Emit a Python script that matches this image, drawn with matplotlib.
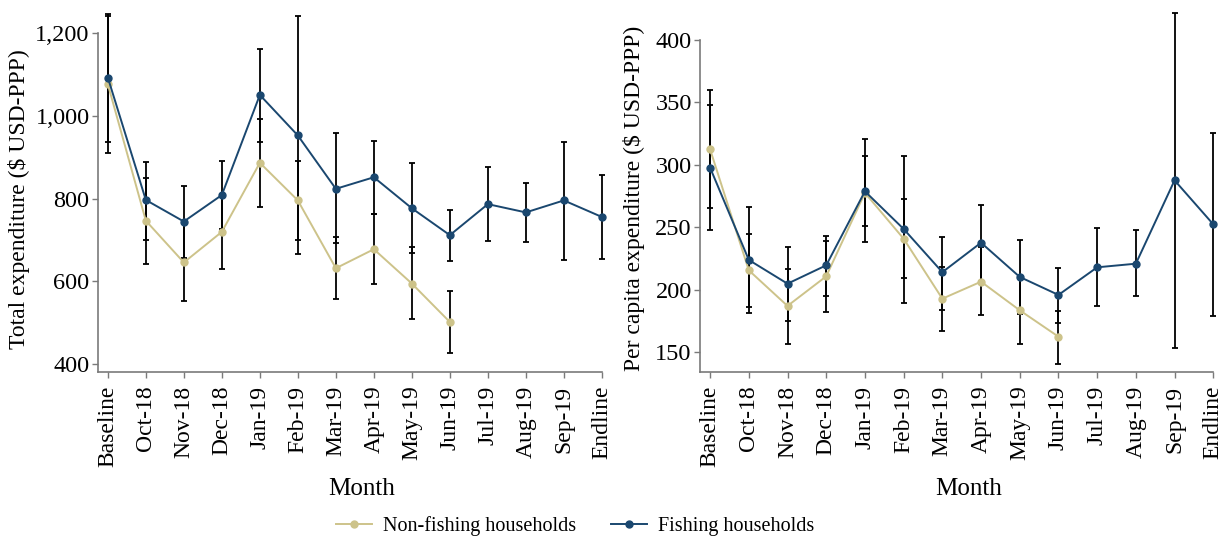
import matplotlib
matplotlib.use("Agg")
import matplotlib.pyplot as plt
from matplotlib.ticker import FuncFormatter

months = ["Baseline", "Oct-18", "Nov-18", "Dec-18", "Jan-19", "Feb-19", "Mar-19",
          "Apr-19", "May-19", "Jun-19", "Jul-19", "Aug-19", "Sep-19", "Endline"]

# total expenditure, $ USD-PPP (mean and 95% CI)
fish_total = [1093, 797, 745, 809, 1051, 953, 824, 852, 777, 712, 787, 767, 796, 756]
fish_total_lo = [938, 700, 656, 726, 938, 666, 692, 762, 668, 649, 697, 695, 653, 655]
fish_total_hi = [1246, 890, 832, 892, 1162, 1243, 958, 940, 886, 774, 876, 838, 938, 858]
nonfish_total = [1077, 747, 646, 720, 887, 796, 632, 678, 595, 502]
nonfish_total_lo = [911, 643, 553, 629, 780, 700, 557, 593, 509, 427]
nonfish_total_hi = [1243, 849, 739, 811, 994, 892, 707, 764, 683, 577]

# per capita expenditure
fish_pc = [297.6, 223.8, 204.8, 219.5, 278.7, 248.6, 214.0, 237.6, 210.2, 195.8, 217.9, 220.8, 287.5, 252.3]
fish_pc_lo = [247.8, 181.0, 175.2, 194.7, 238.2, 189.4, 184.0, 207.0, 180.3, 173.1, 186.7, 194.7, 153.6, 178.9]
fish_pc_hi = [347.8, 265.9, 234.2, 243.0, 320.8, 307.0, 242.4, 268.0, 240.0, 217.6, 249.1, 247.5, 421.6, 325.6]
nonfish_pc = [312.3, 215.5, 187.0, 210.7, 277.5, 240.8, 192.8, 206.4, 183.5, 162.4]
nonfish_pc_lo = [265.4, 186.4, 156.8, 182.4, 251.2, 209.6, 166.7, 179.5, 156.8, 140.8]
nonfish_pc_hi = [359.8, 244.8, 216.8, 238.7, 307.2, 272.6, 218.4, 234.2, 210.0, 183.2]

NAVY = "#1a476f"
SAND = "#cdc38a"
AXGRAY = "#7a7a7a"

plt.rcParams['font.family'] = ['Liberation Serif', 'DejaVu Serif']

fig = plt.figure(figsize=(12.29, 5.41), dpi=100)
ax1 = fig.add_axes([0.0797, 0.313, 0.4162, 0.687])
ax2 = fig.add_axes([0.5696, 0.313, 0.4239, 0.687])


def draw(ax, fish, flo, fhi, non, nlo, nhi, ylim, yticks, ylab, lab_x, fmt=None):
    xf = list(range(len(fish)))
    xn = list(range(len(non)))
    for x, m, lo, hi in [(xn, non, nlo, nhi), (xf, fish, flo, fhi)]:
        err = [[a - b for a, b in zip(m, lo)], [b - a for a, b in zip(m, hi)]]
        ax.errorbar(x, m, yerr=err, fmt='none', ecolor='black', elinewidth=1.3,
                    capsize=2, capthick=1.3, zorder=2)
    ax.plot(xn, non, color=SAND, lw=1.4, marker='o', ms=5, zorder=3,
            label="Non-fishing households")
    ax.plot(xf, fish, color=NAVY, lw=1.4, marker='o', ms=5, zorder=4,
            label="Fishing households")

    ax.set_xlim(-0.26, 13.2)
    ax.set_ylim(*ylim)
    ax.set_xticks(range(len(months)))
    ax.set_xticklabels(months, rotation=90, fontsize=17)
    ax.set_yticks(yticks)
    if fmt:
        ax.yaxis.set_major_formatter(FuncFormatter(fmt))
    ax.tick_params(axis='y', labelsize=17.5, length=4, width=1, color=AXGRAY, pad=2)
    ax.tick_params(axis='x', length=4, width=1, color=AXGRAY, pad=6)
    for s in ['top', 'right']:
        ax.spines[s].set_visible(False)
    for s in ['left', 'bottom']:
        ax.spines[s].set_color(AXGRAY)
        ax.spines[s].set_linewidth(1.2)
    ax.spines['left'].set_bounds(ylim[0], yticks[-1])
    ax.spines['bottom'].set_bounds(-0.26, 13)
    ax.set_ylabel(ylab, fontsize=17)
    ax.yaxis.set_label_coords(lab_x, 0.465)
    ax.set_xlabel("Month", fontsize=18)
    ax.xaxis.set_label_coords(0.515, -0.285)


draw(ax1, fish_total, fish_total_lo, fish_total_hi,
     nonfish_total, nonfish_total_lo, nonfish_total_hi,
     (382, 1280.5), [400, 600, 800, 1000, 1200],
     "Total expenditure (\\$ USD-PPP)", -0.133,
     fmt=lambda v, p: f"{int(v):,}")
draw(ax2, fish_pc, fish_pc_lo, fish_pc_hi,
     nonfish_pc, nonfish_pc_lo, nonfish_pc_hi,
     (134.4, 431.8), [150, 200, 250, 300, 350, 400],
     "Per capita expenditure (\\$ USD-PPP)", -0.106)

handles, labels = ax1.get_legend_handles_labels()
fig.legend(handles, labels, loc='center', bbox_to_anchor=(0.468, 0.028), ncol=2,
           frameon=False, fontsize=14.5, handlelength=1.8, handletextpad=0.55,
           columnspacing=1.7)

fig.savefig("out.png", dpi=100)
